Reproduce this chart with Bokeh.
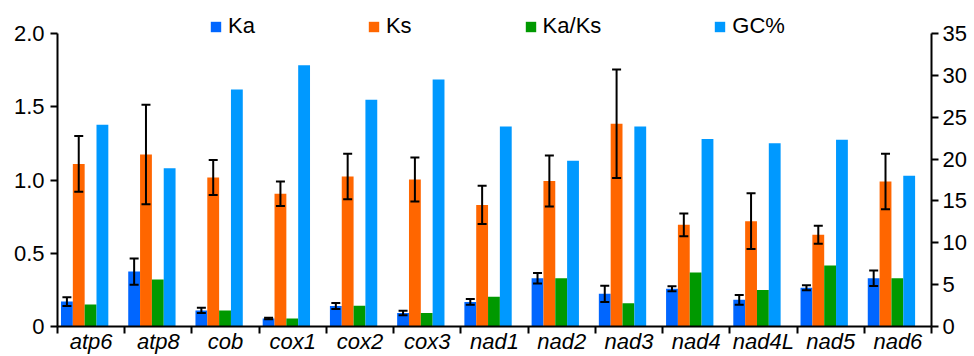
import numpy as np
from bokeh.plotting import figure
from bokeh.models import (Range1d, LinearAxis, FixedTicker, ColumnDataSource,
                          Whisker, TeeHead, Legend, LegendItem)
from bokeh.embed import file_html
from bokeh.resources import INLINE

# ---- data ----
genes = ["atp6", "atp8", "cob", "cox1", "cox2", "cox3", "nad1",
         "nad2", "nad3", "nad4", "nad4L", "nad5", "nad6"]
ka = [0.17, 0.375, 0.11, 0.055, 0.14, 0.092, 0.168, 0.33, 0.223, 0.257, 0.182, 0.264, 0.33]
ka_err = [0.03, 0.09, 0.018, 0.005, 0.021, 0.016, 0.02, 0.036, 0.055, 0.017, 0.033, 0.017, 0.053]
ks = [1.11, 1.174, 1.017, 0.906, 1.024, 1.003, 0.83, 0.993, 1.384, 0.694, 0.719, 0.626, 0.99]
ks_err = [0.19, 0.34, 0.12, 0.083, 0.155, 0.15, 0.13, 0.174, 0.37, 0.078, 0.19, 0.062, 0.19]
kaks = [0.15, 0.321, 0.109, 0.055, 0.141, 0.093, 0.203, 0.33, 0.159, 0.369, 0.25, 0.416, 0.33]
gc = [24.1, 18.9, 28.3, 31.2, 27.1, 29.5, 23.9, 19.8, 23.9, 22.4, 21.9, 22.3, 18.0]
left_ticks = [0, 0.5, 1.0, 1.5, 2.0]
left_labels = ["0", "0.5", "1.0", "1.5", "2.0"]
right_ticks = [0, 5, 10, 15, 20, 25, 30, 35]

# ---- styling / layout constants ----
C_KA, C_KS, C_KAKS, C_GC = "#0066FF", "#FF6600", "#009900", "#0099FF"
FONT = "Liberation Sans"
FS = "22px"
BW = 0.176          # bar width (category units)
OFF0 = 0.14         # first bar center offset within category
TOP_PAD = 318 / 293  # frame extends above the axes' top so the legend fits inside

idx = np.arange(len(genes))
offs = [OFF0 + k * BW for k in range(4)]

p = figure(width=974, height=356, x_range=Range1d(0, 13),
           y_range=Range1d(0, left_ticks[-1] * TOP_PAD),
           output_backend="svg", toolbar_location=None,
           min_border_left=57, min_border_right=43, min_border_top=8, min_border_bottom=0,
           outline_line_color=None)
p.extra_y_ranges = {"gc": Range1d(0, right_ticks[-1] * TOP_PAD)}
p.xgrid.visible = False
p.ygrid.visible = False

r_ka = p.vbar(x=idx + offs[0], top=ka, width=BW, fill_color=C_KA, line_color=None)
r_ks = p.vbar(x=idx + offs[1], top=ks, width=BW, fill_color=C_KS, line_color=None)
r_kaks = p.vbar(x=idx + offs[2], top=kaks, width=BW, fill_color=C_KAKS, line_color=None)
r_gc = p.vbar(x=idx + offs[3], top=gc, width=BW, fill_color=C_GC, line_color=None,
              y_range_name="gc")

# error bars
ka_a, kae_a = np.array(ka), np.array(ka_err)
ks_a, kse_a = np.array(ks), np.array(ks_err)
err_src = ColumnDataSource(dict(
    base=np.concatenate([idx + offs[0], idx + offs[1]]),
    upper=np.concatenate([ka_a + kae_a, ks_a + kse_a]),
    lower=np.concatenate([ka_a - kae_a, ks_a - kse_a]),
))
wh = Whisker(source=err_src, base="base", upper="upper", lower="lower", dimension="height",
             line_width=2, line_color="black", level="overlay",
             upper_head=TeeHead(size=9, line_width=2, line_color="black"),
             lower_head=TeeHead(size=9, line_width=2, line_color="black"))
p.add_layout(wh)

# x axis: labels at category centers, tick marks at boundaries (minor)
xa = p.xaxis[0]
xa.ticker = FixedTicker(ticks=list(idx + 0.5), minor_ticks=list(range(len(genes) + 1)))
xa.major_label_overrides = {float(i + 0.5): g for i, g in enumerate(genes)}
xa.major_tick_out = 0
xa.major_tick_in = 0
xa.minor_tick_out = 7
xa.minor_tick_in = 0
xa.minor_tick_line_width = 2
xa.minor_tick_line_color = "black"
xa.major_label_standoff = -5
xa.major_label_text_font = FONT
xa.major_label_text_font_size = FS
xa.major_label_text_font_style = "italic"
xa.major_label_text_color = "black"
xa.axis_line_width = 2
xa.axis_line_color = "black"

# left axis
ya = p.yaxis[0]
ya.ticker = FixedTicker(ticks=left_ticks, minor_ticks=[])
ya.bounds = (left_ticks[0], left_ticks[-1])
ya.major_label_overrides = {float(t): s for t, s in zip(left_ticks, left_labels)}
ya.major_tick_out = 7
ya.major_tick_in = 0
ya.major_tick_line_width = 2
ya.minor_tick_line_color = None
ya.major_label_standoff = 6
ya.major_label_text_font = FONT
ya.major_label_text_font_size = FS
ya.major_label_text_color = "black"
ya.axis_line_width = 2

# right axis
ra = LinearAxis(y_range_name="gc", ticker=FixedTicker(ticks=right_ticks, minor_ticks=[]))
ra.bounds = (right_ticks[0], right_ticks[-1])
ra.major_tick_out = 7
ra.major_tick_in = 0
ra.major_tick_line_width = 2
ra.minor_tick_line_color = None
ra.major_label_standoff = 4
ra.major_label_text_font = FONT
ra.major_label_text_font_size = FS
ra.major_label_text_color = "black"
ra.axis_line_width = 2
p.add_layout(ra, "right")

legend = Legend(items=[LegendItem(label="Ka", renderers=[r_ka]),
                       LegendItem(label="Ks", renderers=[r_ks]),
                       LegendItem(label="Ka/Ks", renderers=[r_kaks]),
                       LegendItem(label="GC%", renderers=[r_gc])],
                orientation="horizontal", location=(152, 287),
                glyph_width=13, glyph_height=13, label_standoff=6, spacing=112,
                padding=0, margin=0, border_line_color=None, background_fill_alpha=0,
                label_text_font=FONT, label_text_font_size=FS, label_text_color="black")
p.add_layout(legend, "center")

open("out.html", "w").write(file_html(p, INLINE))
